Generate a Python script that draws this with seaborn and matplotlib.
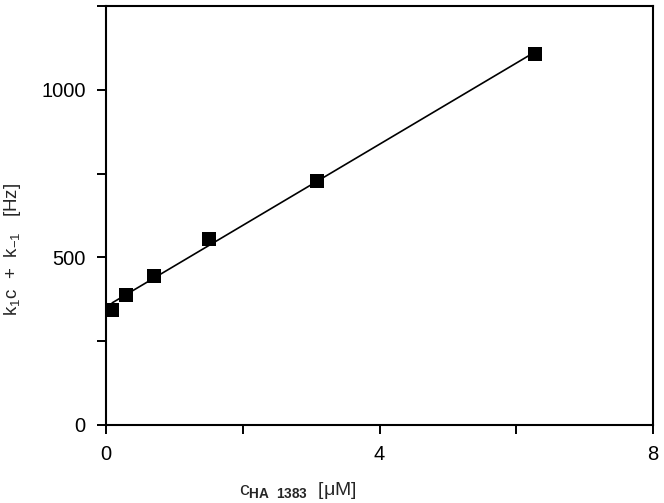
import numpy as np
import pandas as pd
import seaborn as sns
import matplotlib.pyplot as plt

sns.set_theme(style="ticks")
plt.rcParams['font.family'] = ['Liberation Sans', 'DejaVu Sans']
plt.rcParams['mathtext.fontset'] = 'custom'
plt.rcParams['mathtext.rm'] = 'Liberation Sans'
plt.rcParams['mathtext.it'] = 'Liberation Sans'
plt.rcParams['mathtext.bf'] = 'Liberation Sans:bold'

# concentration (uM) and observed rate (Hz)
conc = [0.09, 0.29, 0.70, 1.51, 3.09, 6.27]
rate = [343, 388, 446, 555, 728, 1107]

df = pd.DataFrame({"conc": conc, "rate": rate})

fig = plt.figure(figsize=(6.64, 5.03), dpi=100)
ax = fig.add_axes([106/664, 1-425/503, 547/664, 419/503])

sns.regplot(x="conc", y="rate", data=df, ci=None, marker="s", color="black",
            scatter_kws={"s": 95, "linewidths": 0, "alpha": 1, "zorder": 3},
            line_kws={"lw": 1.2}, ax=ax)

ax.set_xlim(0, 8)
ax.set_ylim(0, 1250)
ax.set_xticks([0, 2, 4, 6, 8])
ax.set_xticklabels(["0", "", "4", "", "8"])
ax.set_yticks([0, 250, 500, 750, 1000, 1250])
ax.set_yticklabels(["0", "", "500", "", "1000", ""])
ax.tick_params(direction="out", length=6.5, width=1.4, labelsize=14.5, pad=8, colors="black")
for s in ax.spines.values():
    s.set_linewidth(1.5)
    s.set_color("black")
    s.set_visible(True)

ax.set_xlabel(r"c$_{\mathbf{HA\ \ 1383}}$  [$\mu$M]", fontsize=14)
ax.set_ylabel(r"k$_1$c  +  k$_{-1}$   [Hz]", fontsize=13.5)
ax.xaxis.set_label_coords(0.35, -0.132)
ax.yaxis.set_label_coords(-0.152, 0.42)

fig.savefig("out.png", dpi=100)
